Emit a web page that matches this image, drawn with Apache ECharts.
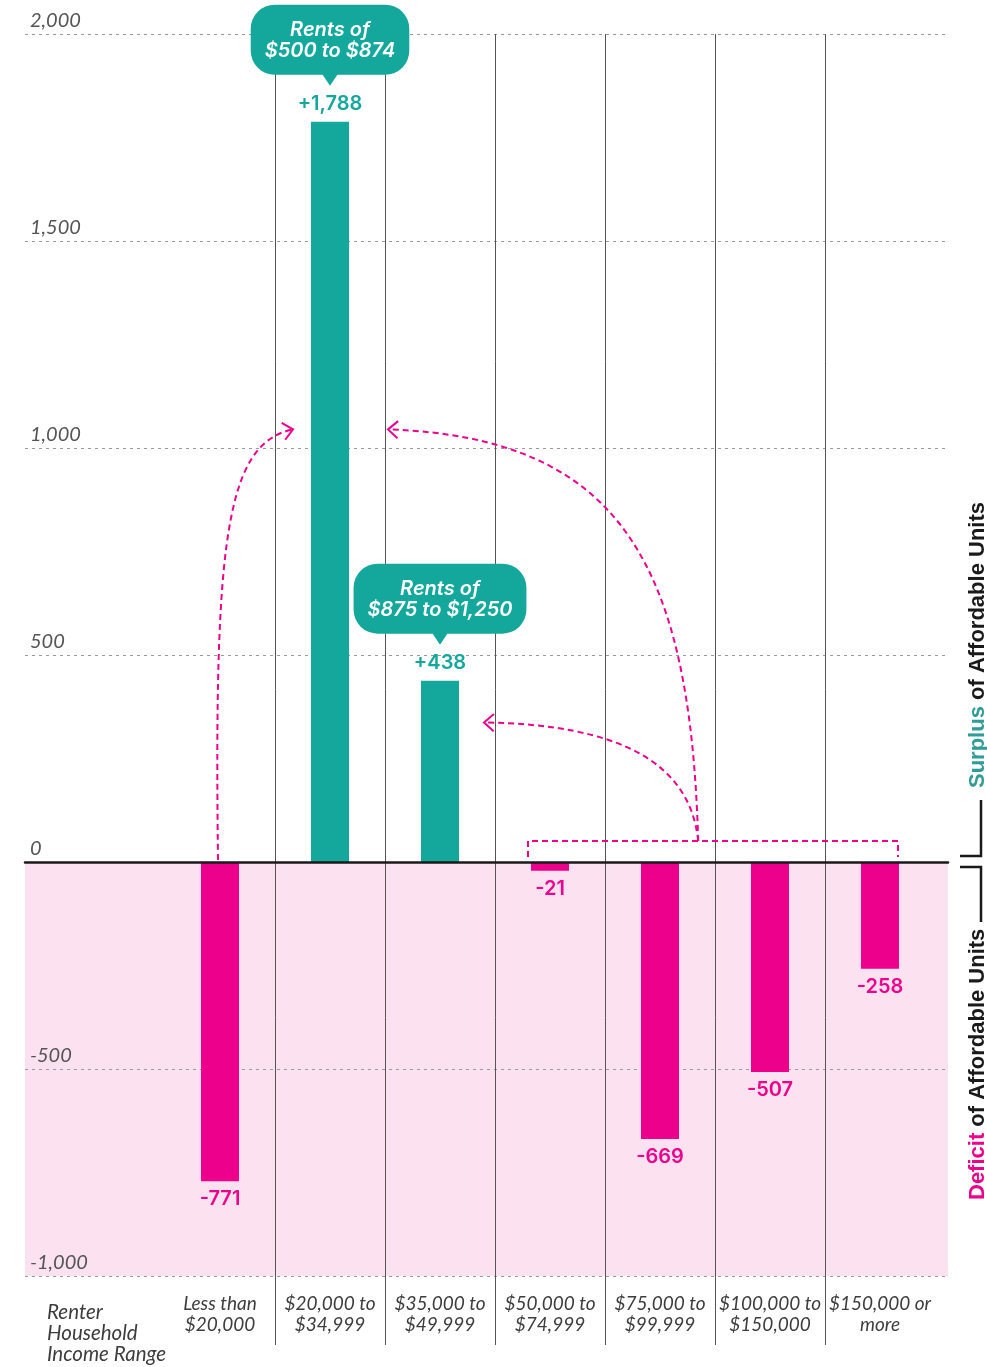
<!DOCTYPE html>
<html>
<head>
<meta charset="utf-8">
<script src="https://cdn.jsdelivr.net/npm/echarts@6/dist/echarts.min.js"></script>
<style>
  html, body { margin: 0; padding: 0; background: #ffffff; }
  #chart { width: 987px; height: 1367px; }
</style>
</head>
<body>
<div id="chart"></div>
<script>
// Income ranges of renter households and the surplus / deficit of affordable units for each
const categories = [
  'Less than\n$20,000',
  '$20,000 to\n$34,999',
  '$35,000 to\n$49,999',
  '$50,000 to\n$74,999',
  '$75,000 to\n$99,999',
  '$100,000 to\n$150,000',
  '$150,000 or\nmore'
];
const values = [-771, 1788, 438, -21, -669, -507, -258];

// Value axis range and tick step
const yMin = -1000;
const yMax = 2000;
const yStep = 500;

// Rent-band callouts attached to the surplus bars
const calloutBars = [1, 2];
const calloutLines = [
  ['Rents of', '$500 to $874'],
  ['Rents of', '$875 to $1,250']
];

const axisTitle = 'Renter\nHousehold\nIncome Range';
const surplusWord = 'Surplus';
const deficitWord = 'Deficit';
const sideRest = ' of Affordable Units';

const TEAL = '#14A89D';
const TEAL_TEXT = '#2F9C95';
const MAGENTA = '#EC008C';
const PINK_BG = '#FCE1F0';
const INK = '#1a1a1a';
const LABEL_GRAY = '#3d3d3d';

const chart = echarts.init(document.getElementById('chart'), null, { renderer: 'canvas' });

const fmt = v => v.toLocaleString('en-US');
const signed = v => (v > 0 ? '+' : '') + fmt(v);

chart.setOption({
  animation: false,
  backgroundColor: '#ffffff',
  grid: [
    // full-width background: pink deficit band, dashed value lines, zero line
    { left: 25, right: 39, top: 34, bottom: 91 },
    // bars
    { left: 165, right: 52, top: 34, bottom: 91 },
    // column separators running down through the category labels
    { left: 165, right: 52, top: 34, bottom: 22 }
  ],
  xAxis: [
    {
      gridIndex: 0, type: 'value', min: 0, max: 1, z: 4,
      axisLine: { show: true, onZero: true, lineStyle: { color: INK, width: 2.5 } },
      axisTick: { show: false }, axisLabel: { show: false }, splitLine: { show: false }
    },
    {
      gridIndex: 1, type: 'category', data: categories,
      axisLine: { show: false }, axisTick: { show: false },
      axisLabel: {
        interval: 0, margin: 17, color: LABEL_GRAY,
        fontFamily: 'Lato', fontStyle: 'italic', fontSize: 19, lineHeight: 21
      }
    },
    {
      gridIndex: 2, type: 'value', min: 0, max: categories.length, interval: 1, z: 2,
      axisLine: { show: false }, axisTick: { show: false }, axisLabel: { show: false },
      splitLine: {
        show: true, showMinLine: false, showMaxLine: false,
        lineStyle: { color: '#555555', width: 1, type: 'solid' }
      }
    }
  ],
  yAxis: [
    {
      gridIndex: 0, type: 'value', min: yMin, max: yMax, interval: yStep, z: 2,
      axisLine: { show: false }, axisTick: { show: false },
      axisLabel: {
        inside: true, margin: 5, verticalAlign: 'bottom', padding: [0, 0, 3, 0],
        color: '#555555', fontFamily: 'Lato', fontStyle: 'italic', fontSize: 20,
        formatter: v => fmt(v)
      },
      splitLine: { show: true, lineStyle: { color: '#9a9a9a', width: 1, type: [3, 4] } }
    },
    { gridIndex: 1, type: 'value', min: yMin, max: yMax, interval: yStep, show: false },
    { gridIndex: 2, type: 'value', min: 0, max: 1, show: false }
  ],
  series: [
    {
      type: 'line', xAxisIndex: 0, yAxisIndex: 0, data: [], z: 1, silent: true,
      markArea: {
        silent: true,
        itemStyle: { color: PINK_BG },
        data: [[{ yAxis: yMin }, { yAxis: 0 }]]
      }
    },
    {
      type: 'bar', xAxisIndex: 1, yAxisIndex: 1, barWidth: 38, z: 3,
      data: values.map(v => ({
        value: v,
        itemStyle: { color: v >= 0 ? TEAL : MAGENTA },
        label: { position: v >= 0 ? 'top' : 'bottom', color: v >= 0 ? TEAL : MAGENTA }
      })),
      label: {
        show: true, distance: 8,
        fontFamily: 'Inter', fontWeight: 600, fontSize: 20,
        formatter: p => signed(p.value)
      }
    }
  ]
});

// ---- annotations placed from data coordinates ----
const p = (c, v) => chart.convertToPixel({ gridIndex: 1 }, [c, v]);
const zeroY = p(0, 0)[1];
const colW = p(1, 0)[0] - p(0, 0)[0];

const measure = (() => {
  const ctx = document.createElement('canvas').getContext('2d');
  return (text, font) => { ctx.font = font; return ctx.measureText(text).width; };
})();

const graphics = [];
const CALLOUT_FONT = 'italic 600 20px Inter';

calloutBars.forEach((ci, k) => {
  const [cx, top] = p(ci, values[ci]);
  const tipY = top - 36;
  const boxBottom = tipY - 11;
  const boxH = 70;
  const w = Math.max(...calloutLines[k].map(t => measure(t, CALLOUT_FONT))) + 28;
  graphics.push({
    type: 'rect', z: 20,
    shape: { x: cx - w / 2, y: boxBottom - boxH, width: w, height: boxH, r: 24 },
    style: { fill: TEAL }
  });
  graphics.push({
    type: 'polygon', z: 20,
    shape: { points: [[cx - 8, boxBottom - 1], [cx + 8, boxBottom - 1], [cx, tipY]] },
    style: { fill: TEAL }
  });
  graphics.push({
    type: 'text', z: 21, x: cx, y: boxBottom - boxH / 2 + 1,
    style: {
      text: calloutLines[k].join('\n'), fill: '#ffffff',
      font: CALLOUT_FONT, lineHeight: 21, align: 'center', verticalAlign: 'middle'
    }
  });
});

// dashed bracket around the four higher-income deficit bars
const bLeft = p(3, 0)[0] - 22;
const bRight = p(6, 0)[0] + 18;
const bTop = zeroY - 21;
const bBottom = zeroY - 5;
const dash = { stroke: MAGENTA, lineWidth: 2, lineDash: [6, 4], fill: null };
graphics.push({
  type: 'polyline', z: 15,
  shape: { points: [[bLeft, bBottom], [bLeft, bTop], [bRight, bTop], [bRight, bBottom]] },
  style: dash
});

function curve(P0, P1, P2, P3) {
  return {
    type: 'bezierCurve', z: 15,
    shape: { x1: P0[0], y1: P0[1], cpx1: P1[0], cpy1: P1[1], cpx2: P2[0], cpy2: P2[1], x2: P3[0], y2: P3[1] },
    style: dash
  };
}
function head(tip, from, len = 13, spread = 0.72) {
  const a = Math.atan2(tip[1] - from[1], tip[0] - from[0]);
  return {
    type: 'polyline', z: 15,
    shape: { points: [
      [tip[0] - len * Math.cos(a - spread), tip[1] - len * Math.sin(a - spread)],
      tip,
      [tip[0] - len * Math.cos(a + spread), tip[1] - len * Math.sin(a + spread)]
    ] },
    style: { stroke: MAGENTA, lineWidth: 2, fill: null }
  };
}

// lowest-income deficit shifts up into the $20,000–$34,999 surplus
{
  const s = [p(0, 0)[0] - 2, zeroY - 2];
  const e = [p(0, 0)[0] + colW / 2 + 18, p(0, 1045)[1]];
  const c1 = [s[0] - 4, e[1] + 110];
  const c2 = [s[0] + 8, e[1] + 14];
  graphics.push(curve(s, c1, c2, e), head(e, c2));
}
// higher-income deficits shift down into the two surplus bands
const hub = [bLeft + 0.46 * (bRight - bLeft), bTop];
{
  const e = [p(1, 0)[0] + colW / 2 + 3, p(1, 1045)[1]];
  const c1 = [hub[0] - 8, hub[1] - 278];
  const c2 = [hub[0] - 78, e[1] + 8];
  graphics.push(curve(hub, c1, c2, e), head(e, c2));
}
{
  const e = [p(2, 0)[0] + 44, p(2, 337)[1]];
  const c1 = [hub[0] - 8, hub[1] - 78];
  const c2 = [hub[0] - 78, e[1] + 2];
  graphics.push(curve(hub, c1, c2, e), head(e, c2));
}

// right-hand key: surplus above the zero line, deficit below
const sideX = 978;
const SIDE_FONT = 'bold 22px "Liberation Sans"';
graphics.push({
  type: 'text', z: 20, x: sideX, y: zeroY - 74, rotation: Math.PI / 2,
  style: {
    text: '{a|' + surplusWord + '}{b|' + sideRest + '}',
    align: 'left', verticalAlign: 'middle',
    rich: {
      a: { fill: TEAL_TEXT, font: SIDE_FONT },
      b: { fill: INK, font: SIDE_FONT }
    }
  }
});
graphics.push({
  type: 'text', z: 20, x: sideX, y: zeroY + 338, rotation: Math.PI / 2,
  style: {
    text: '{a|' + deficitWord + '}{b|' + sideRest + '}',
    align: 'left', verticalAlign: 'middle',
    rich: {
      a: { fill: MAGENTA, font: SIDE_FONT },
      b: { fill: INK, font: SIDE_FONT }
    }
  }
});
const keyLine = { stroke: INK, lineWidth: 2.5, fill: null };
graphics.push({
  type: 'polyline', z: 20,
  shape: { points: [[981, zeroY - 62], [981, zeroY - 6], [960, zeroY - 6]] },
  style: keyLine
});
graphics.push({
  type: 'polyline', z: 20,
  shape: { points: [[960, zeroY + 5], [981, zeroY + 5], [981, zeroY + 60]] },
  style: keyLine
});

// category axis title
graphics.push({
  type: 'text', z: 20, x: 47, y: 1302,
  style: {
    text: axisTitle, fill: LABEL_GRAY, font: 'italic 20.5px Lato',
    lineHeight: 21, align: 'left', verticalAlign: 'top'
  }
});

chart.setOption({ graphic: graphics });
</script>
</body>
</html>
